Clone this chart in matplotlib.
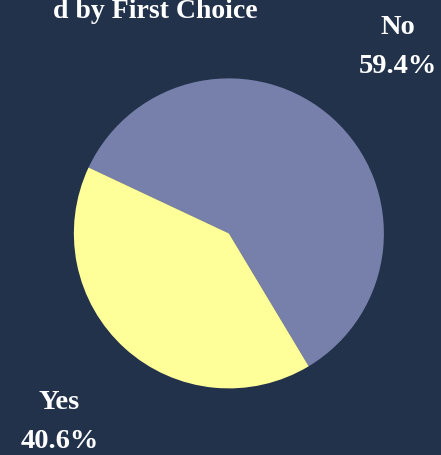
import matplotlib.pyplot as plt

# data
categories = ["No", "Yes"]
shares = [59.4, 40.6]
slice_colors = ["#7780ab", "#ffff99"]
title_text = "d by First Choice"

BG = "#22324b"

fig = plt.figure(figsize=(4.41, 4.56), dpi=100, facecolor=BG)
ax = fig.add_axes([0.519 - 0.3515, 0.486 - 0.340, 0.703, 0.680])
ax.set_facecolor(BG)

labels = [f"{c}\n{v:.1f}%" for c, v in zip(categories, shares)]
wedges, texts = ax.pie(
    shares,
    labels=labels,
    colors=slice_colors,
    startangle=-59,
    counterclock=True,
    labeldistance=1.63,
    wedgeprops={"linewidth": 0},
    textprops={"color": "white", "fontsize": 20.5, "fontweight": "bold",
               "family": "Liberation Serif", "ha": "center", "va": "center",
               "multialignment": "center", "linespacing": 1.75},
)
ax.set_xlim(-1, 1)
ax.set_ylim(-1, 1)
ax.set_aspect("equal")
ax.axis("off")

fig.text(258 / 441, 1 - 18 / 456, title_text, ha="right", va="baseline",
         color="white", fontsize=20, fontweight="bold", family="Liberation Serif")

fig.savefig("out.png", dpi=100, facecolor=BG)
